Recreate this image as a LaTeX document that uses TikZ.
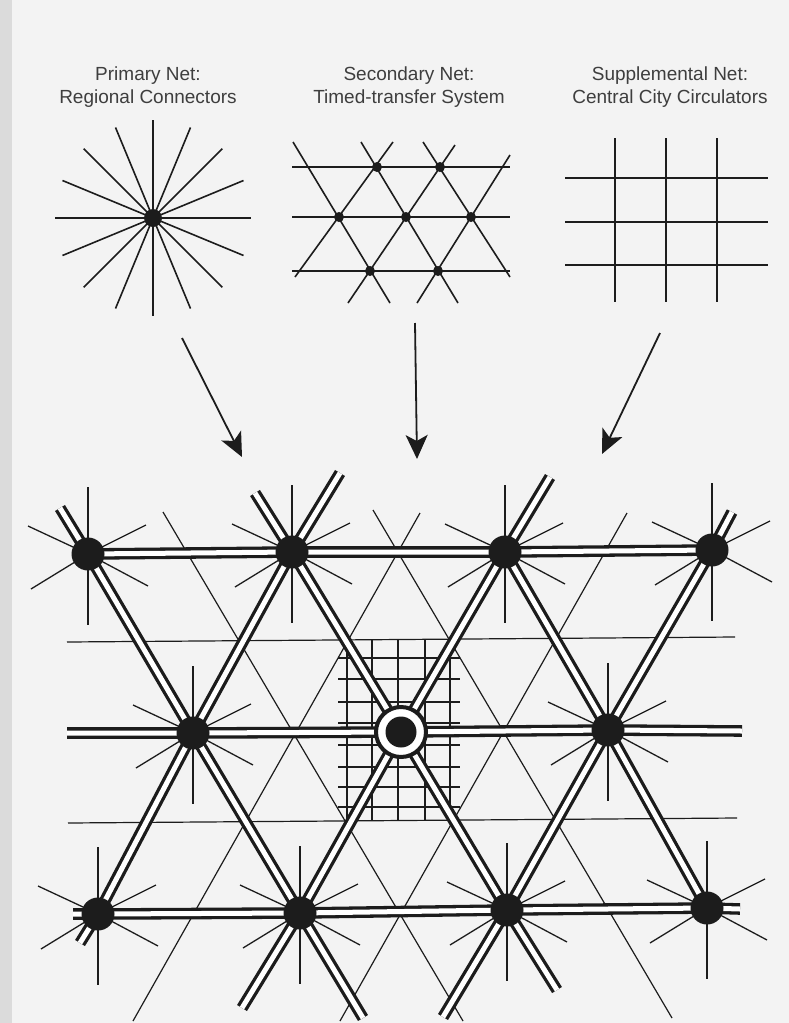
\documentclass[tikz,border=0pt]{standalone}
\usepackage{fontspec}
\setmainfont{Liberation Sans}
\usetikzlibrary{arrows.meta}
\definecolor{ink}{HTML}{1C1C1C}
\definecolor{paper}{HTML}{F3F3F3}
\begin{document}
\begin{tikzpicture}[x=1pt,y=-1pt,
  fine/.style={draw=ink, line width=1.2pt},
  bold/.style={draw=ink, line width=1.6pt},
  spoke/.style={draw=ink, line width=1.3pt},
  road/.style={draw=ink, line width=3.3pt, double=white, double distance=5pt},
  hub/.style={circle, fill=ink, minimum size=33pt, inner sep=0pt},
  stopdot/.style={circle, fill=ink, minimum size=10pt, inner sep=0pt},
  title/.style={font=\fontsize{19}{23}\selectfont, align=center, text=ink!85},
  flow/.style={draw=ink, line width=1.8pt, -{Stealth[length=24pt,width=22pt,inset=6pt]}},
]
\fill[paper] (0,0) rectangle (789,1023);
\fill[black!14] (0,0) rectangle (12,1023);
\useasboundingbox (0,0) rectangle (789,1023);

% ---------- titles ----------
\node[title] (t1) at (148,87) {Primary Net:\\Regional Connectors};
\node[title] (t2) at (409,87) {Secondary Net:\\Timed-transfer System};
\node[title] (t3) at (670,87) {Supplemental Net:\\Central City Circulators};

% ---------- primary star ----------
\coordinate (S) at (153,218);
\foreach \a in {0,22.5,...,337.5} \draw[bold] (S) -- ++(\a:98);
\node[stopdot, minimum size=18pt] (s0) at (S) {};

% ---------- secondary lattice ----------
\foreach \y in {167,217,271} \draw[bold] (292,\y) -- (510,\y);
\draw[bold] (293,142) -- (390,303);
\draw[bold] (361,142) -- (458,303);
\draw[bold] (423,142) -- (510,277);
\draw[bold] (393,142) -- (295,277);
\draw[bold] (455,145) -- (348,303);
\draw[bold] (510,155) -- (417,303);
\foreach \p [count=\i] in {(377,167),(440,167),(339,217),(406,217),(471,217),(370,271),(438,271)}
  \node[stopdot] (d\i) at \p {};

% ---------- supplemental grid ----------
\foreach \x in {615,666,717} \draw[bold] (\x,138) -- (\x,302);
\foreach \y in {178,222,265} \draw[bold] (565,\y) -- (768,\y);

% ---------- arrows ----------
\coordinate (a1s) at (182,338); \coordinate (a1e) at (242,457);
\coordinate (a2s) at (415,323); \coordinate (a2e) at (417,459);
\coordinate (a3s) at (660,333); \coordinate (a3e) at (602,454);
\draw[flow] (a1s) -- (a1e);
\draw[flow] (a2s) -- (a2e);
\draw[flow] (a3s) -- (a3e);

% ---------- combined network ----------
\coordinate (P11) at (88,554);  \coordinate (P12) at (292,552);
\coordinate (P13) at (505,552); \coordinate (P14) at (712,550);
\coordinate (P21) at (193,733); \coordinate (P22) at (401,732);
\coordinate (P23) at (608,730);
\coordinate (P31) at (98,914);  \coordinate (P32) at (300,913);
\coordinate (P33) at (507,910); \coordinate (P34) at (707,908);

\coordinate (e1) at (60,508);   \coordinate (e2) at (363,1018);
\coordinate (e3) at (255,493);  \coordinate (e4) at (557,990);
\coordinate (e5) at (80,943);   \coordinate (e6) at (340,473);
\coordinate (e7) at (242,1008); \coordinate (e8) at (550,477);
\coordinate (e9) at (443,1017); \coordinate (e10) at (732,512);
\coordinate (h2a) at (67,733);  \coordinate (h2b) at (742,731);
\coordinate (h3a) at (73,914);  \coordinate (h3b) at (740,909);

% secondary (thin) lines
\draw[fine] (163,512) -- (463,1021);
\draw[fine] (373,510) -- (672,1018);
\draw[fine] (420,513) -- (133,1021);
\draw[fine] (627,513) -- (340,1021);
\draw[fine] (67,642) -- (735,637);
\draw[fine] (68,823) -- (737,818);

% supplemental grid round the centre
\foreach \x in {347,372,398,425,450} \draw[fine] (\x,640) -- (\x,821);
\foreach \y in {658,679,702,723,745,767,787,807} \draw[fine] (338,\y) -- (460,\y);

% spokes
\foreach \p in {P11,P12,P13,P14,P21,P23,P31,P32,P33,P34}{
  \draw[spoke] (\p) -- ++(0,-67);
  \draw[spoke] (\p) -- ++(0,71);
  \draw[spoke] (\p) -- ++(-60,-28);
  \draw[spoke] (\p) -- ++(58,-29);
  \draw[spoke] (\p) -- ++(-57,35);
  \draw[spoke] (\p) -- ++(60,32);
}

% primary roads
\draw[road] (e1) -- (P11) -- (P21) -- (P32) -- (e2);
\draw[road] (e3) -- (P12) -- (P22) -- (P33) -- (e4);
\draw[road] (P13) -- (P23) -- (P34);
\draw[road] (e5) -- (P31) -- (P21) -- (P12) -- (e6);
\draw[road] (e7) -- (P32) -- (P22) -- (P13) -- (e8);
\draw[road] (e9) -- (P33) -- (P23) -- (P14) -- (e10);
\draw[road] (P11) -- (P12) -- (P13) -- (P14);
\draw[road] (h2a) -- (P21) -- (P22) -- (P23) -- (h2b);
\draw[road] (h3a) -- (P31) -- (P32) -- (P33) -- (P34) -- (h3b);

% hubs
\foreach \p in {P11,P12,P13,P14,P21,P23,P31,P32,P33,P34}
  \node[hub] (hub\p) at (\p) {};
\node[circle, draw=ink, line width=4pt, fill=white, minimum size=50pt, inner sep=0pt] (ring) at (P22) {};
\node[hub, minimum size=31pt] (core) at (P22) {};
\end{tikzpicture}
\end{document}
